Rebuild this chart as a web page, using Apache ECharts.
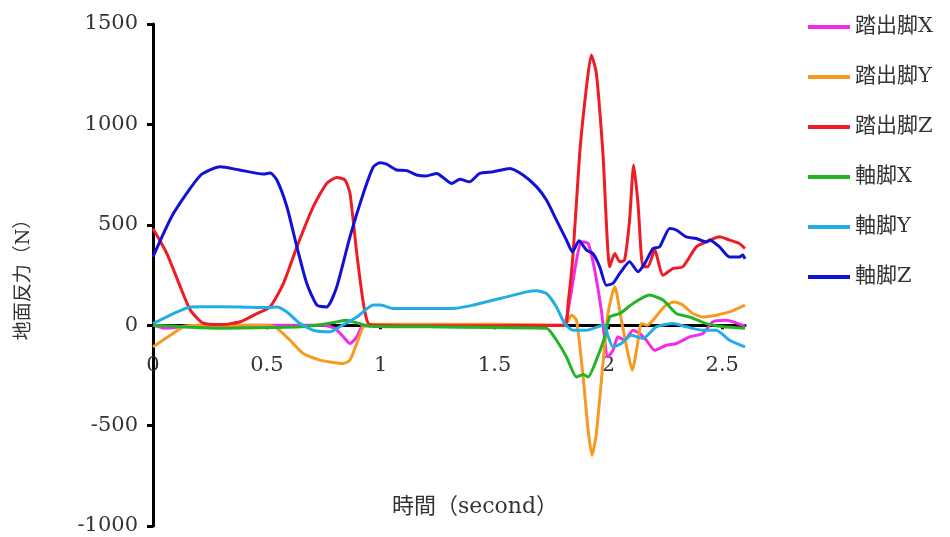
<!DOCTYPE html>
<html><head><meta charset="utf-8">
<script src="https://cdn.jsdelivr.net/npm/echarts@6/dist/echarts.min.js"></script>
<style>html,body{margin:0;padding:0;background:#fff}#c{width:950px;height:537px}</style>
</head><body><div id="c"></div>
<script>
const seriesNames = ['踏出脚X','踏出脚Y','踏出脚Z','軸脚X','軸脚Y','軸脚Z'];
const xTicks = [0, 0.5, 1, 1.5, 2, 2.5];

const tSX = [0,0.05,0.1,0.15,0.5,0.75,0.8,0.836,0.865,0.895,0.92,1.0,1.5,1.8,1.823,1.86,1.882,1.911,1.94,1.969,1.998,2.02,2.042,2.071,2.108,2.137,2.167,2.203,2.254,2.298,2.357,2.415,2.459,2.518,2.6];
const vSX = [0,-15,-12,-3,0,0,-17,-58,-91,-58,-5,0,0,0,75,324,415,407,274,75,-158,-125,-58,-75,-25,-41,-75,-125,-100,-91,-58,-41,17,25,-5];

const tSY = [0,0.076,0.134,0.2,0.5,0.544,0.602,0.66,0.734,0.836,0.865,0.895,0.924,0.96,1.2,1.5,1.808,1.838,1.86,1.889,1.911,1.928,1.947,1.976,1.998,2.028,2.057,2.086,2.105,2.126,2.145,2.17,2.196,2.225,2.254,2.291,2.327,2.371,2.415,2.474,2.532,2.6];
const vSY = [-108,-50,-8,0,0,-15,-75,-141,-174,-191,-174,-91,-8,5,5,5,0,50,25,-258,-523,-648,-540,-191,58,191,25,-141,-224,-108,8,0,25,66,100,116,100,58,41,50,66,100];

const tSZ = [0,0.061,0.12,0.164,0.22,0.3,0.383,0.456,0.514,0.573,0.632,0.704,0.763,0.807,0.843,0.865,0.895,0.924,0.946,1.0,1.2,1.4,1.6,1.808,1.823,1.845,1.874,1.904,1.925,1.947,1.976,2.006,2.028,2.05,2.071,2.093,2.111,2.13,2.152,2.174,2.203,2.24,2.283,2.327,2.386,2.43,2.488,2.532,2.575,2.6];
const vSZ = [482,357,191,75,10,3,17,58,91,208,390,590,706,736,723,657,357,108,8,0,-3,-3,-2,0,108,357,856,1188,1346,1255,856,291,357,316,324,523,798,607,291,291,374,249,282,291,390,415,440,424,407,382];

const tJX = [0,0.1,0.164,0.3,0.5,0.65,0.75,0.8,0.85,0.9,0.95,1.2,1.5,1.728,1.772,1.816,1.86,1.89,1.911,1.947,1.984,2.006,2.05,2.108,2.18,2.24,2.298,2.357,2.43,2.503,2.6];
const vJX = [0,-5,-10,-15,-12,-8,5,15,25,10,-5,-8,-12,-15,-75,-158,-258,-245,-258,-174,-58,41,58,108,150,125,58,41,8,-8,-15];

const tJY = [0,0.09,0.164,0.22,0.383,0.5,0.544,0.588,0.646,0.704,0.778,0.82,0.895,0.968,1.0,1.055,1.19,1.33,1.406,1.553,1.64,1.684,1.728,1.772,1.808,1.845,1.904,1.976,2.02,2.057,2.1,2.152,2.21,2.283,2.342,2.415,2.474,2.532,2.6];
const vJY = [8,58,91,92,91,88,91,66,8,-25,-33,-8,41,100,100,83,83,85,100,141,166,171,158,91,8,-25,-25,0,-108,-91,-50,-66,-8,8,-8,-25,-25,-75,-108];

const tJZ = [0,0.09,0.21,0.295,0.38,0.485,0.515,0.544,0.588,0.632,0.675,0.72,0.763,0.807,0.865,0.924,0.968,0.997,1.026,1.07,1.115,1.158,1.2,1.246,1.311,1.348,1.39,1.435,1.494,1.567,1.625,1.684,1.728,1.772,1.816,1.842,1.871,1.904,1.932,1.962,1.991,2.02,2.05,2.093,2.13,2.16,2.196,2.225,2.269,2.298,2.342,2.386,2.43,2.445,2.488,2.532,2.575,2.59,2.6];
const vJZ = [340,557,748,789,773,753,758,723,590,390,209,100,91,191,440,657,789,809,802,773,770,748,743,756,706,727,714,756,764,781,748,690,623,523,424,365,420,374,357,291,199,208,258,316,266,308,382,390,482,474,440,432,415,424,390,340,340,349,330];

const colors = ['#F22BEA','#F89A22','#EE1C24','#22B422','#22AEE4','#1212D6'];
const times = [tSX,tSY,tSZ,tJX,tJY,tJZ];
const vals = [vSX,vSY,vSZ,vJX,vJY,vJZ];

const FONT = "'DejaVu Serif', 'Noto Sans CJK JP', serif";
const GRID_TOP = 24, GRID_BOTTOM = 11, H = 537;
const yMin = -1000, yMax = 1500;
const plotH = H - GRID_TOP - GRID_BOTTOM;
const zeroOffset = -plotH * (0 - yMin) / (yMax - yMin);

const chart = echarts.init(document.getElementById('c'), null, {renderer:'canvas'});
chart.setOption({
  animation: false,
  backgroundColor: '#fff',
  color: colors,
  grid: {left: 153, right: 205, top: GRID_TOP, bottom: GRID_BOTTOM, containLabel: false},
  legend: {
    orient: 'vertical', left: 803, top: 10,
    icon: 'rect', itemWidth: 42, itemHeight: 4, itemGap: 26,
    data: seriesNames,
    textStyle: {fontFamily: FONT, fontSize: 21, lineHeight: 24, color: '#333'}
  },
  xAxis: {
    type: 'value', min: 0, max: 2.6, interval: 0.5,
    position: 'bottom', offset: zeroOffset,
    axisLine: {onZero: false, lineStyle: {color: '#000', width: 3}},
    axisTick: {show: true, length: 4, customValues: xTicks, lineStyle: {color: '#000', width: 3}},
    axisLabel: {customValues: xTicks, margin: 30, fontFamily: FONT, fontSize: 21, color: '#333'},
    splitLine: {show: false}
  },
  yAxis: {
    type: 'value', min: yMin, max: yMax, interval: 500,
    name: '地面反力（N）', nameLocation: 'middle', nameGap: 119, nameRotate: 90,
    nameTextStyle: {fontFamily: FONT, fontSize: 19, color: '#333'},
    axisLine: {onZero: false, lineStyle: {color: '#000', width: 3}},
    axisTick: {show: true, length: 6, lineStyle: {color: '#000', width: 3}},
    axisLabel: {margin: 15, fontFamily: FONT, fontSize: 21, color: '#333', formatter: v => String(v)},
    splitLine: {show: false}
  },
  graphic: [{
    type: 'text', left: 'center', top: 496, x: -14,
    style: {text: '時間（second）', font: "22px 'DejaVu Serif', 'Noto Sans CJK JP', serif", fill: '#333'}
  }],
  series: seriesNames.map((n, i) => ({
    name: n, type: 'line', showSymbol: false, smooth: 0.2,
    lineStyle: {width: 3, color: colors[i]},
    itemStyle: {color: colors[i]},
    data: times[i].map((t, k) => [t, vals[i][k]])
  }))
});
</script></body></html>
